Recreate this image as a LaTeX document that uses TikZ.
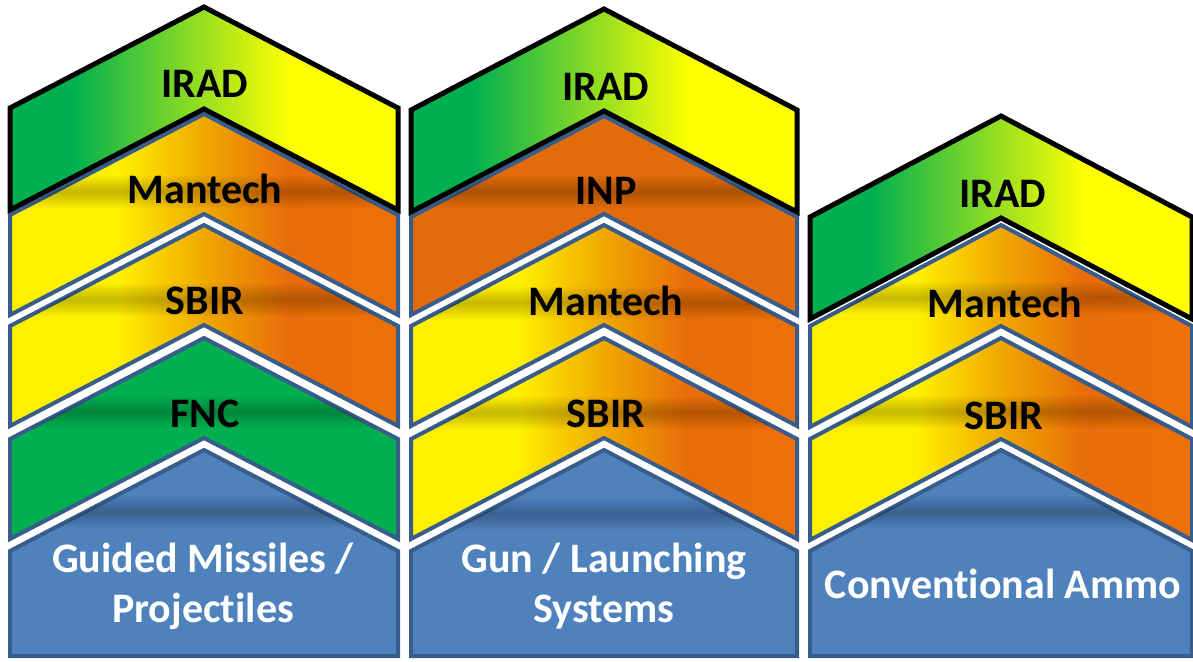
\documentclass[tikz,border=0pt]{standalone}
\usepackage{fontspec}
\setmainfont{Carlito}[Ligatures=NoCommon]
\usetikzlibrary{calc}

\definecolor{iradgreen}{RGB}{0,176,80}
\definecolor{iradyellow}{RGB}{255,255,0}
\definecolor{mtyellow}{RGB}{255,240,0}
\definecolor{mtamber}{RGB}{240,168,0}
\definecolor{mtorange}{RGB}{232,108,10}
\definecolor{mtright}{RGB}{248,120,0}
\definecolor{inporange}{RGB}{226,107,10}
\definecolor{basefill}{RGB}{79,129,189}
\definecolor{bordblue}{RGB}{56,93,138}

% left edge of the path sits at 25bp, right edge at 75bp
\pgfdeclarehorizontalshading{iradshade}{100bp}{color(0bp)=(iradgreen); color(33bp)=(iradgreen); color(61bp)=(iradyellow); color(100bp)=(iradyellow)}
\pgfdeclarehorizontalshading{mantechshade}{100bp}{color(0bp)=(mtyellow); color(39bp)=(mtyellow); color(50bp)=(mtamber); color(61bp)=(mtorange); color(100bp)=(mtright)}

% outlines: centre x, half width, apex y, thickness
\newcommand{\chevpath}[4]{(#1,#3) -- ++(#2,101) -- ++(0,#4) -- (#1,#3+#4) -- ++(-#2,101) -- ++(0,-#4) -- cycle}
\newcommand{\basepath}[3]{(#1,#3) -- ++(#2,101) -- (#1+#2,656) -- (#1-#2,656) -- (#1-#2,#3+101) -- cycle}
% soft dark band: left x, right x, height
\newcommand{\darkband}[3]{%
  \foreach \r in {2,4,...,16}
    \fill[shadowband] (#1,#3-\r) rectangle (#2,#3+\r);}
% chevron with a dark band at height #6
\newcommand{\chevron}[6][]{%
  \path[#1] \chevpath{#2}{#3}{#4}{#5};
  \begin{scope}
    \clip \chevpath{#2}{#3}{#4}{#5};
    \darkband{#2-#3}{#2+#3}{#6}
  \end{scope}}
\newcommand{\basebox}[5][]{%
  \path[#1] \basepath{#2}{#3}{#4};
  \begin{scope}
    \clip \basepath{#2}{#3}{#4};
    \darkband{#2-#3}{#2+#3}{#5}
  \end{scope}}

\tikzset{
  irad/.style={shading=iradshade, draw=black, line width=5pt},
  mantech/.style={shading=mantechshade, draw=bordblue, line width=4pt},
  inp/.style={fill=inporange, draw=bordblue, line width=4pt},
  fnc/.style={fill=iradgreen, draw=bordblue, line width=4pt},
  base/.style={fill=basefill, draw=bordblue, line width=4pt},
  shadowband/.style={black, opacity=0.028},
  lbl/.style={font=\fontsize{42}{50}\selectfont\bfseries, text=black, inner sep=0pt},
  baselbl/.style={lbl, text=white, align=center}
}

\begin{document}
\begin{tikzpicture}[x=1pt, y=-1pt]
\useasboundingbox (0,0) rectangle (1193,661);
% guided missiles
\basebox[base]{204}{194}{450}{512}
\chevron[fnc]{204}{194}{338}{100}{412}
\chevron[mantech]{204}{194}{225}{100}{300}
\chevron[mantech]{204}{194}{114}{100}{192}
\path[irad] \chevpath{204}{194}{7}{102};
\node[lbl] (irad1) at (205,84) {IRAD};
\node[lbl] (mantech1) at (205,189) {Mantech};
\node[lbl] (sbir1) at (205,301) {SBIR};
\node[lbl] (fnc1) at (205,414) {FNC};
\node[baselbl] (guided) at (203,586) {Guided Missiles /\\Projectiles};
% gun systems
\basebox[base]{604}{193}{450}{514}
\chevron[mantech]{604}{193}{338}{100}{413}
\chevron[mantech]{604}{193}{225}{100}{303}
\chevron[inp]{604}{193}{116}{98}{192}
\path[irad] \chevpath{604}{193}{9}{102};
\node[lbl] (irad2) at (606,87) {IRAD};
\node[lbl] (inp2) at (606,191) {INP};
\node[lbl] (mantech2) at (606,301) {Mantech};
\node[lbl] (sbir2) at (606,414) {SBIR};
\node[baselbl] (gun) at (604,586) {Gun / Launching\\Systems};
% conventional ammo
\basebox[base]{1001}{191}{450}{512}
\chevron[mantech]{1001}{191}{338}{101}{412}
\chevron[mantech]{1001}{191}{225}{101}{298}
\path[irad] \chevpath{1001}{191}{116}{102};
\node[lbl] (irad3) at (1003,194) {IRAD};
\node[lbl] (mantech3) at (1005,303) {Mantech};
\node[lbl] (sbir3) at (1004,416) {SBIR};
\node[baselbl] (ammo) at (1003,584) {Conventional Ammo};
\end{tikzpicture}
\end{document}
